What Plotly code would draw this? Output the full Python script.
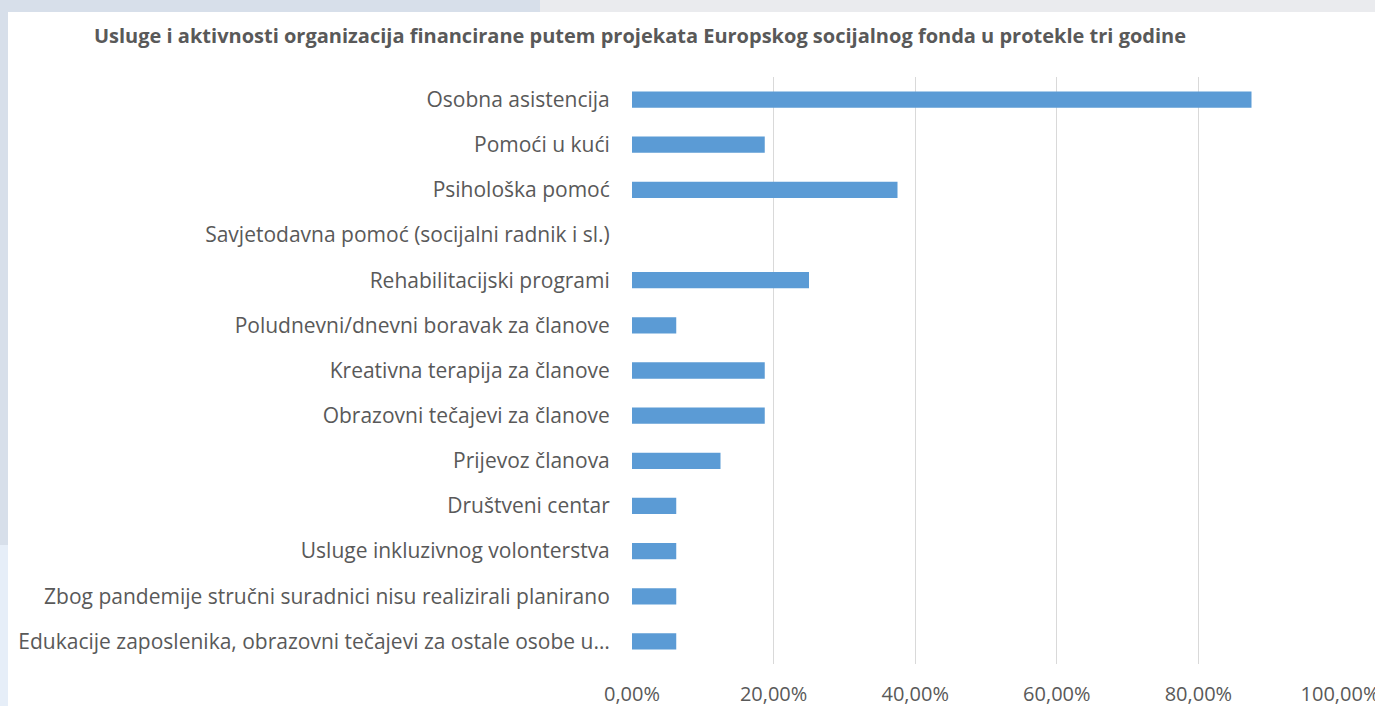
import plotly.graph_objects as go

categories = [
    "Osobna asistencija",
    "Pomoći u kući",
    "Psihološka pomoć",
    "Savjetodavna pomoć (socijalni radnik i sl.)",
    "Rehabilitacijski programi",
    "Poludnevni/dnevni boravak za članove",
    "Kreativna terapija za članove",
    "Obrazovni tečajevi za članove",
    "Prijevoz članova",
    "Društveni centar",
    "Usluge inkluzivnog volonterstva",
    "Zbog pandemije stručni suradnici nisu realizirali planirano",
    "Edukacije zaposlenika, obrazovni tečajevi za ostale osobe u…",
]
values = [0.875, 0.1875, 0.375, 0.0, 0.25, 0.0625, 0.1875, 0.1875, 0.125, 0.0625, 0.0625, 0.0625, 0.0625]
tick_vals = [0, 0.2, 0.4, 0.6, 0.8, 1.0]
tick_text = ["0,00%", "20,00%", "40,00%", "60,00%", "80,00%", "100,00%"]
title_text = "Usluge i aktivnosti organizacija financirane putem projekata Europskog socijalnog fonda u protekle tri godine"

W, H = 1375, 706
L, R, T, B = 632, 35, 77, 42
pw, ph = W - L - R, H - T - B

def px_x(x):
    return (x - L) / pw

def px_y(y):
    return (H - B - y) / ph

fig = go.Figure(go.Bar(
    x=values, y=categories, orientation="h",
    marker=dict(color="#5b9bd5", line=dict(width=0)),
    width=0.36,
))

shapes = [
    dict(type="rect", xref="paper", yref="paper", x0=px_x(540), x1=px_x(W + 5), y0=px_y(12), y1=px_y(-5),
         fillcolor="#eaebee", line=dict(width=0), layer="below"),
    dict(type="rect", xref="paper", yref="paper", x0=px_x(-5), x1=px_x(8), y0=px_y(H + 5), y1=px_y(545),
         fillcolor="#e6eef8", line=dict(width=0), layer="below"),
    dict(type="rect", xref="paper", yref="paper", x0=px_x(8), x1=px_x(W + 5), y0=px_y(H + 5), y1=px_y(12),
         fillcolor="#ffffff", line=dict(width=0), layer="below"),
]

FONT = "Open Sans"
fig.update_layout(
    width=W, height=H,
    margin=dict(l=L, r=R, t=T, b=B, autoexpand=False),
    paper_bgcolor="#d7dfea",
    plot_bgcolor="rgba(0,0,0,0)",
    shapes=shapes,
    showlegend=False,
    title=dict(text="<b>" + title_text + "</b>", x=640 / W, xanchor="center",
               y=1 - 36 / H, yanchor="middle", xref="container", yref="container",
               font=dict(family=FONT, size=20, color="#595959")),
    font=dict(family=FONT, color="#595959"),
    bargap=0.64,
)
fig.update_xaxes(
    range=[0, 1.0], tickvals=tick_vals, ticktext=tick_text,
    showgrid=True, gridcolor="#d9d9d9", gridwidth=1.3,
    zeroline=False, showline=False,
    tickfont=dict(family=FONT, size=20, color="#595959"),
    ticks="outside", ticklen=12, tickcolor="rgba(0,0,0,0)",
    ticklabeloverflow="allow", automargin=False,
    fixedrange=True,
)
fig.update_yaxes(
    autorange="reversed",
    showgrid=False, zeroline=False, showline=False,
    tickfont=dict(family=FONT, size=21, color="#595959"),
    ticks="outside", ticklen=17, tickcolor="rgba(0,0,0,0)",
    automargin=False,
    fixedrange=True,
)

fig.write_html(
    "out.html",
    config={"displayModeBar": False, "responsive": False},
    post_script="document.body.style.margin='0';document.body.style.overflow='hidden';",
)
